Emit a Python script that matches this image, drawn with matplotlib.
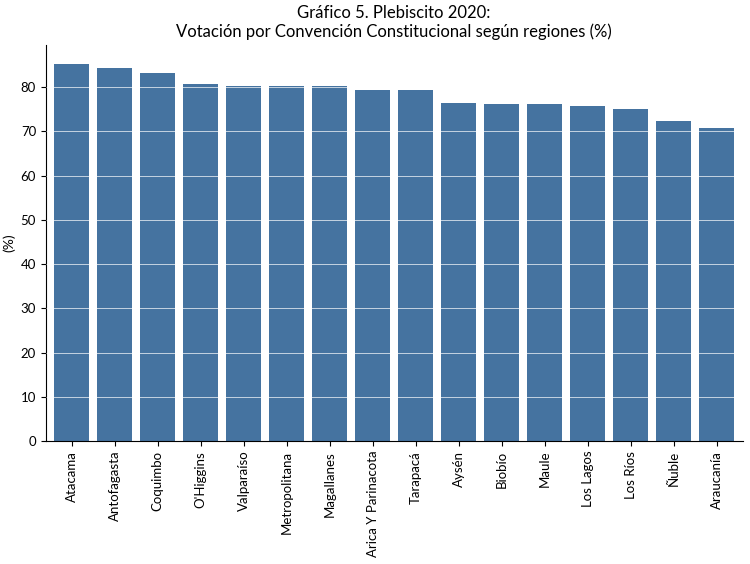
import matplotlib.pyplot as plt

regions = ["Atacama", "Antofagasta", "Coquimbo", "O'Higgins", "Valparaíso",
           "Metropolitana", "Magallanes", "Arica Y Parinacota", "Tarapacá",
           "Aysén", "Biobío", "Maule", "Los Lagos", "Los Ríos", "Ñuble", "Araucanía"]
votes = [85.2, 84.4, 83.1, 80.6, 80.3, 80.3, 80.3, 79.3, 79.3,
         76.5, 76.2, 76.2, 75.8, 75.1, 72.4, 70.8]
yticks = [0, 10, 20, 30, 40, 50, 60, 70, 80]

plt.rcParams["font.family"] = "Lato"
fig = plt.figure(figsize=(7.5, 5.64), dpi=100)
ax = fig.add_axes([0.061, 0.218, 0.929, 0.702])

ax.bar(range(len(regions)), votes, color="#4573a0", width=0.8)
ax.set_xlim(-0.6, len(regions) - 0.4)
ax.set_ylim(0, 89.5)
ax.set_yticks(yticks)
ax.set_xticks(range(len(regions)))
ax.set_xticklabels(regions, rotation=90, fontsize=9.5)
ax.tick_params(axis="y", labelsize=9.5)
ax.set_ylabel("(%)", fontsize=10)

# white grid drawn on top of the bars
ax.set_axisbelow(False)
ax.grid(axis="y", color="white", linewidth=0.6, alpha=0.8)
for side in ("top", "right"):
    ax.spines[side].set_visible(False)

ax.set_title("Gráfico 5. Plebiscito 2020:\nVotación por Convención Constitucional según regiones (%)",
             fontsize=12, pad=6)

fig.savefig("out.png", dpi=100)
